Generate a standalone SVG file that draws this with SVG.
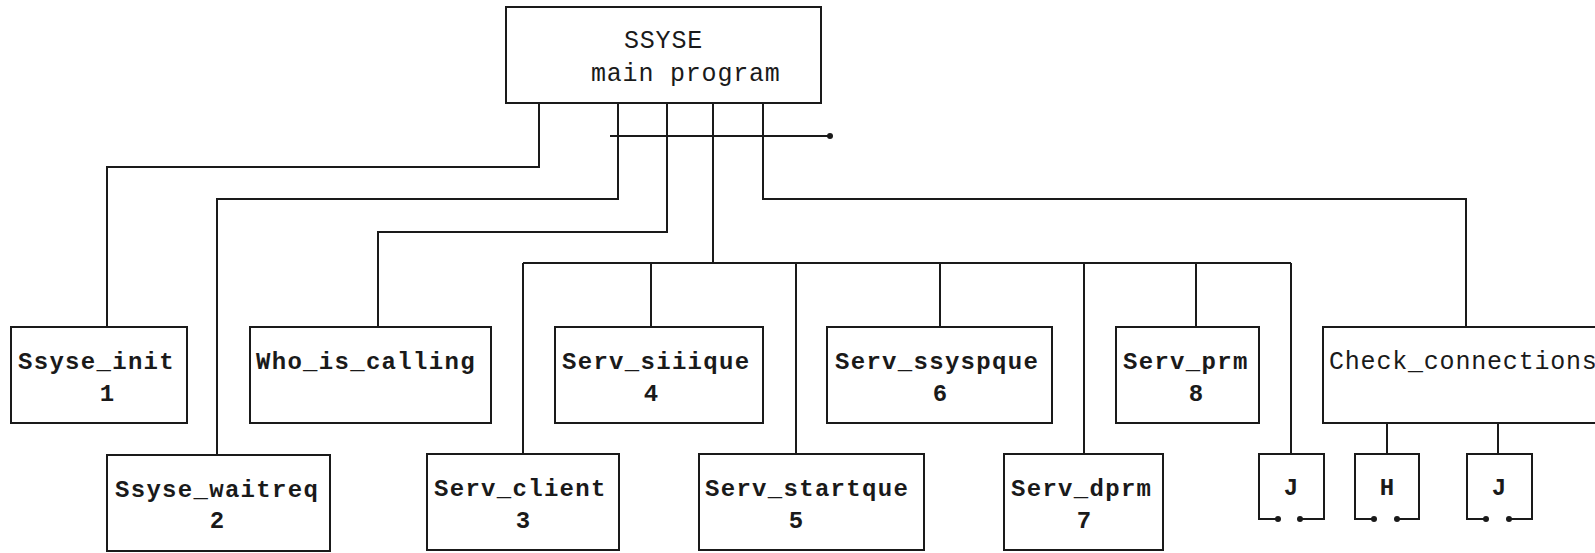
<svg xmlns="http://www.w3.org/2000/svg" width="1595" height="553" viewBox="0 0 1595 553">
<style>
.box{fill:#fff;stroke:#1a1a1a;stroke-width:2}
.ln{fill:none;stroke:#1a1a1a;stroke-width:2}
.lbl{font-family:"Liberation Mono","DejaVu Sans Mono",monospace;font-size:24px;letter-spacing:1.3px;font-weight:bold;fill:#1a1a1a}
.num{font-family:"Liberation Mono","DejaVu Sans Mono",monospace;font-size:24px;font-weight:bold;fill:#1a1a1a;text-anchor:middle}
.main{font-family:"Liberation Mono","DejaVu Sans Mono",monospace;font-size:25px;letter-spacing:0.8px;fill:#1a1a1a}
.sm{font-family:"Liberation Mono","DejaVu Sans Mono",monospace;font-size:24px;font-weight:bold;fill:#1a1a1a;text-anchor:middle}
.dot{fill:#1a1a1a}
</style>
<rect width="1595" height="553" fill="#fff"/>
<g id="connectors">
<path class="ln" d="M539,103 V167 H107 V327"/>
<path class="ln" d="M618,103 V199 H217 V455"/>
<path class="ln" d="M667,103 V232 H378 V327"/>
<path class="ln" d="M713,103 V263"/>
<path class="ln" d="M763,103 V199 H1466 V327"/>
<path class="ln" d="M523,263 H1291"/>
<path class="ln" d="M523,263 V454 M651,263 V327 M796,263 V454 M940,263 V327 M1084,263 V454 M1196,263 V327 M1291,263 V454"/>
<path class="ln" d="M610,136 H830"/>
<circle class="dot" cx="830" cy="136" r="3"/>
<path class="ln" d="M1387,423 V454 M1498,423 V454"/>
</g>
<g id="main">
<rect class="box" x="506" y="7" width="315" height="96"/>
<text class="main" x="624" y="48">SSYSE</text>
<text class="main" x="591" y="81">main program</text>
</g>
<g id="ssyse_init">
<rect class="box" x="11" y="327" width="176" height="96"/>
<text class="lbl" x="18" y="369">Ssyse_init</text>
<text class="num" x="107" y="401">1</text>
</g>
<g id="ssyse_waitreq">
<rect class="box" x="107" y="455" width="223" height="96"/>
<text class="lbl" x="115" y="497">Ssyse_waitreq</text>
<text class="num" x="217" y="528">2</text>
</g>
<g id="who_is_calling">
<rect class="box" x="250" y="327" width="241" height="96"/>
<text class="lbl" x="256" y="369">Who_is_calling</text>
</g>
<g id="serv_client">
<rect class="box" x="427" y="454" width="192" height="96"/>
<text class="lbl" x="434" y="496">Serv_client</text>
<text class="num" x="523" y="528">3</text>
</g>
<g id="serv_siiique">
<rect class="box" x="555" y="327" width="208" height="96"/>
<text class="lbl" x="562" y="369">Serv_siiique</text>
<text class="num" x="651" y="401">4</text>
</g>
<g id="serv_startque">
<rect class="box" x="699" y="454" width="225" height="96"/>
<text class="lbl" x="705" y="496">Serv_startque</text>
<text class="num" x="796" y="528">5</text>
</g>
<g id="serv_ssyspque">
<rect class="box" x="827" y="327" width="225" height="96"/>
<text class="lbl" x="835" y="369">Serv_ssyspque</text>
<text class="num" x="940" y="401">6</text>
</g>
<g id="serv_dprm">
<rect class="box" x="1004" y="454" width="159" height="96"/>
<text class="lbl" x="1011" y="496">Serv_dprm</text>
<text class="num" x="1084" y="528">7</text>
</g>
<g id="serv_prm">
<rect class="box" x="1116" y="327" width="143" height="96"/>
<text class="lbl" x="1123" y="369">Serv_prm</text>
<text class="num" x="1196" y="401">8</text>
</g>
<g id="check_connections">
<rect class="box" x="1323" y="327" width="290" height="96"/>
<text class="main" x="1329" y="369">Check_connections</text>
</g>
<g id="j1">
<path class="ln" d="M1278,519 H1259 V454 H1324 V519 H1300"/>
<circle class="dot" cx="1278" cy="519" r="3"/>
<circle class="dot" cx="1300" cy="519" r="3"/>
<text class="sm" x="1291" y="495">J</text>
</g>
<g id="h">
<path class="ln" d="M1374,519 H1355 V454 H1419 V519 H1397"/>
<circle class="dot" cx="1374" cy="519" r="3"/>
<circle class="dot" cx="1397" cy="519" r="3"/>
<text class="sm" x="1387" y="495">H</text>
</g>
<g id="j2">
<path class="ln" d="M1486,519 H1467 V454 H1532 V519 H1509"/>
<circle class="dot" cx="1486" cy="519" r="3"/>
<circle class="dot" cx="1509" cy="519" r="3"/>
<text class="sm" x="1499" y="495">J</text>
</g>
</svg>
